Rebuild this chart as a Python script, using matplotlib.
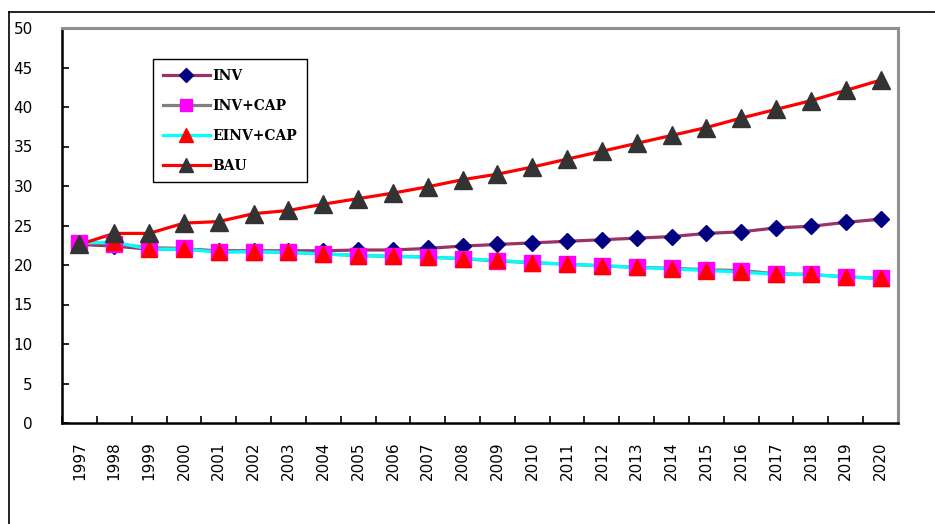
import numpy as np
import matplotlib
matplotlib.use('Agg')
import matplotlib.pyplot as plt
from matplotlib.lines import Line2D

years = [str(y) for y in range(1997, 2021)]
inv = [22.6, 22.4, 22.0, 22.0, 21.8, 21.8, 21.8, 21.8, 21.9, 21.9, 22.1, 22.4,
       22.6, 22.8, 23.0, 23.2, 23.4, 23.6, 24.0, 24.2, 24.7, 24.9, 25.4, 25.8]
inv_cap = [22.8, 22.7, 22.2, 22.1, 21.7, 21.7, 21.6, 21.4, 21.2, 21.1, 21.0, 20.8,
           20.5, 20.3, 20.1, 19.9, 19.7, 19.6, 19.4, 19.3, 18.9, 18.8, 18.5, 18.3]
einv_cap = [22.8, 22.9, 22.0, 22.0, 21.6, 21.7, 21.6, 21.4, 21.2, 21.1, 21.0, 20.8,
            20.6, 20.3, 20.1, 19.9, 19.7, 19.5, 19.3, 19.1, 18.8, 18.8, 18.5, 18.3]
bau = [22.6, 24.0, 24.0, 25.3, 25.5, 26.5, 26.9, 27.7, 28.4, 29.1, 29.9, 30.8,
       31.5, 32.4, 33.4, 34.4, 35.4, 36.4, 37.4, 38.6, 39.7, 40.8, 42.1, 43.4]

series = [
    ('INV', inv, '#993366', 'D', 8.0, '#000080'),
    ('INV+CAP', inv_cap, '#808080', 's', 11.0, '#FF00FF'),
    ('EINV+CAP', einv_cap, '#00FFFF', '^', 11.5, '#FF0000'),
    ('BAU', bau, '#FF0000', '^', 12.5, '#333333'),
]

fig = plt.figure(figsize=(9.35, 5.24), dpi=100)
ax = fig.add_axes([62 / 935, 1 - 423 / 524, (898 - 62) / 935, (423 - 28) / 524])

x = np.arange(len(years))
handles = []
for name, vals, lc, mk, ms, mc in series:
    ax.plot(x, vals, color=lc, lw=2.3, zorder=2)
    ax.plot(x, vals, ls='none', marker=mk, ms=ms, color=mc, mec=mc, zorder=3)
    handles.append(Line2D([], [], color=lc, lw=2.3, marker=mk, ms=ms * 0.85,
                          markerfacecolor=mc, markeredgecolor=mc))

ax.set_xlim(-0.5, len(years) - 0.5)
ax.set_ylim(0, 50)
ax.set_yticks(np.arange(0, 51, 5))
ax.tick_params(axis='y', direction='in', length=5, width=1.2, pad=21, labelsize=11)
ax.set_xticks(np.arange(-0.5, len(years), 1))
ax.set_xticklabels([])
ax.tick_params(axis='x', which='major', direction='in', length=5, width=1.2)
ax.set_xticks(x, minor=True)
ax.set_xticklabels(years, minor=True, rotation=90, fontsize=11)
ax.tick_params(axis='x', which='minor', length=0, pad=13)

for s in ['left', 'bottom']:
    ax.spines[s].set_color('black')
    ax.spines[s].set_linewidth(1.8)
for s in ['top', 'right']:
    ax.spines[s].set_color('#909090')
    ax.spines[s].set_linewidth(2.2)

leg = ax.legend(handles, [s[0] for s in series], loc='upper left',
                bbox_to_anchor=(153 / 935, 1 - 59 / 524), bbox_transform=fig.transFigure,
                prop={'family': 'DejaVu Serif', 'size': 10, 'weight': 'bold'},
                numpoints=1, handlelength=3.4, handletextpad=0.2, labelspacing=1.15,
                borderpad=0.7, borderaxespad=0, fancybox=False, framealpha=1)
leg.get_frame().set_edgecolor('black')
leg.get_frame().set_linewidth(1.0)

# outer frame of the pasted picture (top and left edges only)
fig.add_artist(Line2D([9 / 935, 9 / 935], [0, 1 - 12 / 524], color='black', lw=1.2))
fig.add_artist(Line2D([9 / 935, 1], [1 - 12 / 524, 1 - 12 / 524], color='black', lw=1.2))

fig.savefig('out.png', dpi=100)
